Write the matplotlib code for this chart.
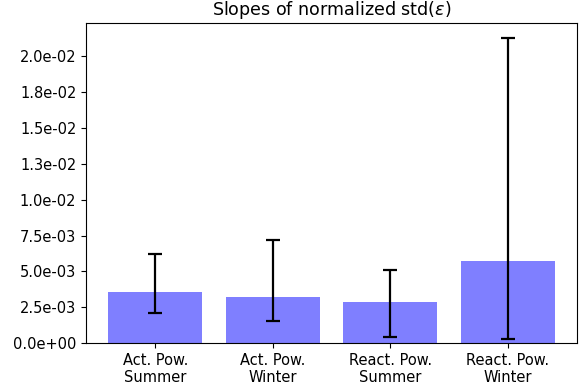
import matplotlib
matplotlib.use("Agg")
import matplotlib.pyplot as plt
from matplotlib.ticker import FormatStrFormatter

labels = ["Act. Pow.\nSummer", "Act. Pow.\nWinter", "React. Pow.\nSummer", "React. Pow.\nWinter"]
slopes = [0.00355, 0.00322, 0.00286, 0.00573]
err_low = [0.00210, 0.00153, 0.00042, 0.00028]
err_high = [0.00620, 0.00718, 0.00511, 0.02125]

yerr = [[s - lo for s, lo in zip(slopes, err_low)],
        [hi - s for s, hi in zip(slopes, err_high)]]

plt.rcParams["font.size"] = 10.5

fig, ax = plt.subplots(figsize=(5.86, 3.9), dpi=100)
x = range(len(labels))
ax.bar(x, slopes, width=0.8, color="blue", alpha=0.5)
ax.errorbar(x, slopes, yerr=yerr, fmt="none", ecolor="black", elinewidth=1.6, capsize=5, capthick=1.6)
ax.set_xticks(list(x))
ax.set_xticklabels(labels)
ax.yaxis.set_major_formatter(FormatStrFormatter("%.1e"))
ax.set_ylim(0, 0.0223)
ax.set_title(r"Slopes of normalized std($\epsilon$)", fontsize=12.6)
plt.subplots_adjust(left=0.147, right=0.985, top=0.94, bottom=0.12)
plt.savefig("out.png")
